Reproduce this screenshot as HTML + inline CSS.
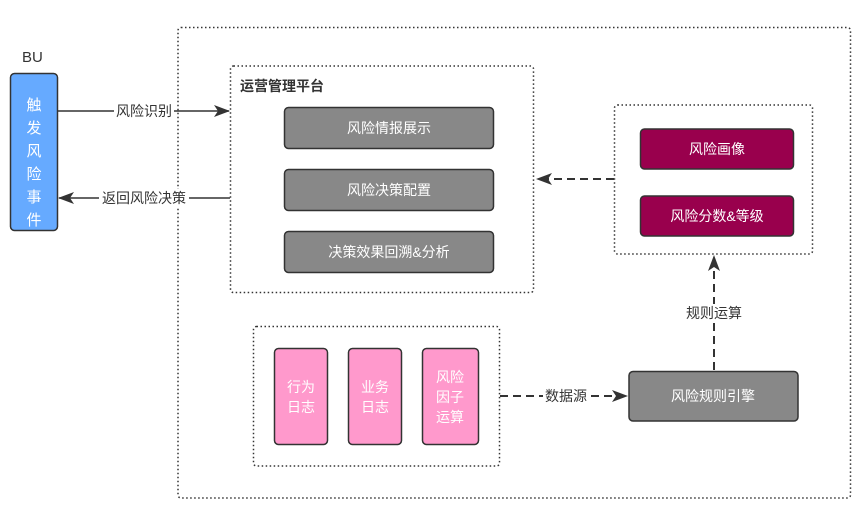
<!DOCTYPE html>
<html><head><meta charset="utf-8"><style>
html,body{margin:0;padding:0;background:#fff;}
svg text{font-family:"Liberation Sans","Noto Sans CJK SC",sans-serif;}
</style></head><body>
<svg width="861" height="520" viewBox="0 0 861 520" xmlns="http://www.w3.org/2000/svg">
<defs>
<marker id="ar2" markerWidth="16" markerHeight="12" refX="15" refY="6" orient="auto" markerUnits="userSpaceOnUse">
<path d="M0,0 L16,6 L0,12 L4,6 Z" fill="#333"/></marker>
</defs>
<g fill="none" stroke="#333" stroke-width="1.5" stroke-dasharray="1.5,2.5">
<rect x="178" y="27.5" width="672.5" height="470.5" rx="3"/>
<rect x="230.5" y="66" width="303" height="226.5" rx="3"/>
<rect x="614.5" y="105" width="198" height="149" rx="3"/>
<rect x="253.5" y="326.5" width="246" height="139.5" rx="3"/>
</g>
<text x="22" y="62" font-size="15" fill="#333">BU</text>
<rect x="10.5" y="73.5" width="47" height="157" rx="4" fill="#66aaff" stroke="#333" stroke-width="1.5"/>
<g font-size="15" fill="#fff" text-anchor="middle">
<text x="34" y="110">触</text><text x="34" y="133">发</text><text x="34" y="156">风</text>
<text x="34" y="179">险</text><text x="34" y="202">事</text><text x="34" y="225">件</text>
</g>
<line x1="58" y1="111" x2="229" y2="111" stroke="#333" stroke-width="1.5" marker-end="url(#ar2)"/>
<line x1="230" y1="198" x2="59" y2="198" stroke="#333" stroke-width="1.5" marker-end="url(#ar2)"/>
<rect x="114" y="102" width="60" height="18" fill="#fff"/>
<text x="144" y="116" font-size="14" fill="#333" text-anchor="middle">风险识别</text>
<rect x="99" y="189" width="90" height="18" fill="#fff"/>
<text x="144" y="203" font-size="14" fill="#333" text-anchor="middle">返回风险决策</text>
<text x="240" y="91" font-size="14" font-weight="bold" fill="#333">运营管理平台</text>
<g fill="#888" stroke="#333" stroke-width="1.5">
<rect x="284.5" y="107.5" width="209" height="41" rx="4"/>
<rect x="284.5" y="169.5" width="209" height="41" rx="4"/>
<rect x="284.5" y="231.5" width="209" height="41" rx="4"/>
<rect x="629" y="371.5" width="169" height="49.5" rx="4"/>
</g>
<g font-size="14" fill="#fff" text-anchor="middle">
<text x="389" y="133">风险情报展示</text>
<text x="389" y="195">风险决策配置</text>
<text x="389" y="257">决策效果回溯&amp;分析</text>
<text x="713" y="401">风险规则引擎</text>
</g>
<g fill="#99004d" stroke="#333" stroke-width="1.5">
<rect x="640.5" y="129" width="153" height="40" rx="4"/>
<rect x="640.5" y="196" width="153" height="40" rx="4"/>
</g>
<g font-size="14" fill="#fff" text-anchor="middle">
<text x="717" y="154">风险画像</text>
<text x="717" y="221">风险分数&amp;等级</text>
</g>
<g fill="#ff99cc" stroke="#333" stroke-width="1.5">
<rect x="274.5" y="348.5" width="53" height="96" rx="4"/>
<rect x="348.5" y="348.5" width="53" height="96" rx="4"/>
<rect x="422.5" y="348.5" width="56" height="96" rx="4"/>
</g>
<g font-size="14" fill="#fff" text-anchor="middle">
<text x="301" y="392">行为</text><text x="301" y="412">日志</text>
<text x="375" y="392">业务</text><text x="375" y="412">日志</text>
<text x="450" y="382">风险</text><text x="450" y="402">因子</text><text x="450" y="422">运算</text>
</g>
<g stroke="#333" stroke-width="2" stroke-dasharray="8,5" fill="none">
<line x1="614" y1="179" x2="537" y2="179" marker-end="url(#ar2)"/>
<line x1="714" y1="370" x2="714" y2="256" marker-end="url(#ar2)"/>
<line x1="500" y1="396" x2="627" y2="396" marker-end="url(#ar2)"/>
</g>
<rect x="543" y="387" width="46" height="18" fill="#fff"/>
<text x="566" y="401" font-size="14" fill="#333" text-anchor="middle">数据源</text>
<rect x="684" y="304" width="60" height="18" fill="#fff"/>
<text x="714" y="318" font-size="14" fill="#333" text-anchor="middle">规则运算</text>
</svg>
</body></html>
